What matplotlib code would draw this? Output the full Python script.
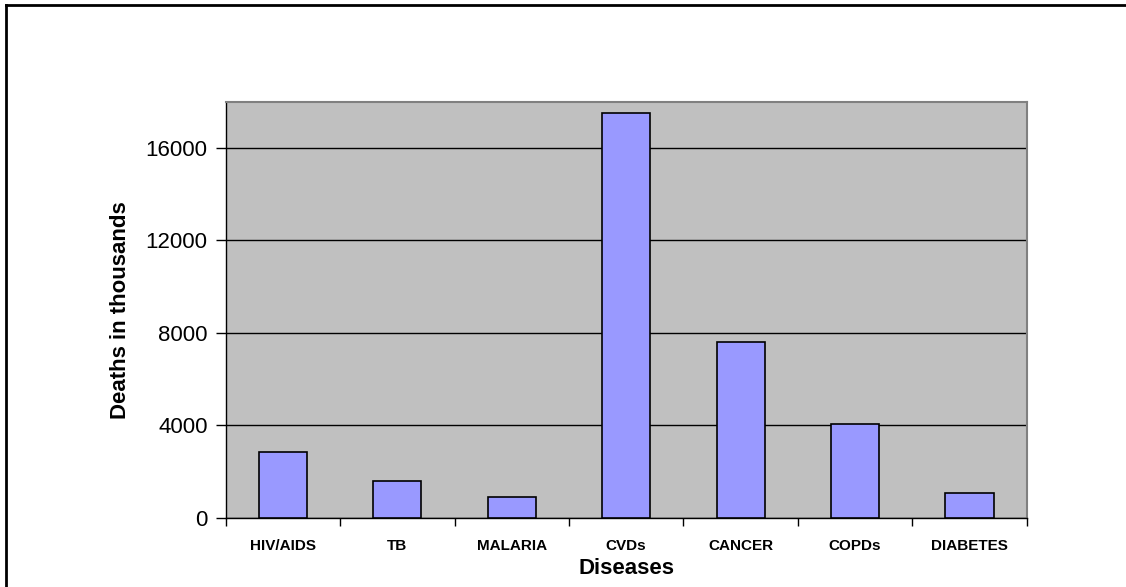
import numpy as np
import matplotlib
matplotlib.use('Agg')
import matplotlib.pyplot as plt
from matplotlib.lines import Line2D

# deaths in thousands
diseases = ['HIV/AIDS', 'TB', 'MALARIA', 'CVDs', 'CANCER', 'COPDs', 'DIABETES']
deaths = [2850, 1570, 900, 17500, 7580, 4060, 1070]
y_ticks = [0, 4000, 8000, 12000, 16000]

plt.rcParams['font.family'] = ['Liberation Sans', 'DejaVu Sans']

fig = plt.figure(figsize=(11.26, 5.87), dpi=100)
ax = fig.add_axes([0.2004, 0.1181, 0.7114, 0.7087])

x = np.arange(len(diseases))
ax.set_facecolor('#C0C0C0')
ax.set_axisbelow(True)
ax.yaxis.grid(True, color='black', linewidth=1)
ax.bar(x, deaths, width=0.42, color='#9999FF', edgecolor='black', linewidth=1.2, zorder=3)

ax.set_xlim(-0.5, len(diseases) - 0.5)
ax.set_ylim(0, 18000)
ax.set_yticks(y_ticks)
ax.tick_params(axis='y', labelsize=16, length=7, width=1, pad=6, direction='out')

ax.set_xticks(x)
ax.set_xticklabels(diseases, fontsize=11, fontweight='bold')
ax.set_xticks(np.arange(len(diseases) + 1) - 0.5, minor=True)
ax.tick_params(axis='x', which='major', length=0, pad=15)
ax.tick_params(axis='x', which='minor', length=6, width=1, direction='out')

for s in ['top', 'right']:
    ax.spines[s].set_color('#808080')
    ax.spines[s].set_linewidth(1.5)
for s in ['left', 'bottom']:
    ax.spines[s].set_color('black')
    ax.spines[s].set_linewidth(1)

ax.set_xlabel('Diseases', fontsize=16, fontweight='bold', va='center')
ax.xaxis.set_label_coords(0.5, -0.1226)
ax.set_ylabel('Deaths in thousands', fontsize=16, fontweight='bold', va='center')
ax.yaxis.set_label_coords(-0.1307, 0.5)

# outer chart border (top and left visible)
W, H = 1126, 587
fig.add_artist(Line2D([5.5 / W, 1], [1 - 4.5 / H, 1 - 4.5 / H], color='black', linewidth=2, transform=fig.transFigure))
fig.add_artist(Line2D([5.5 / W, 5.5 / W], [0, 1 - 4.5 / H], color='black', linewidth=2, transform=fig.transFigure))

fig.savefig('out.png', dpi=100)
